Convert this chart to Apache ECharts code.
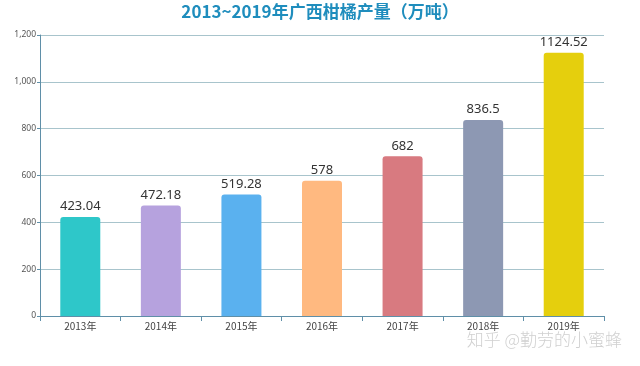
<!DOCTYPE html>
<html><head><meta charset="utf-8">
<script src="https://cdn.jsdelivr.net/npm/echarts@6/dist/echarts.min.js"></script>
<style>html,body{margin:0;padding:0;background:#fff}#c{width:640px;height:366px}</style>
</head><body><div id="c"></div>
<script>
const categories = ['2013年','2014年','2015年','2016年','2017年','2018年','2019年'];
const values = [423.04, 472.18, 519.28, 578, 682, 836.5, 1124.52];
const colors = ['#2ec7c9','#b6a2de','#5ab1ef','#ffb980','#d87a80','#8d98b3','#e5cf0d'];
const yTicks = [0, 200, 400, 600, 800, 1000, 1200];
const chart = echarts.init(document.getElementById('c'));
chart.setOption({
  animation: false,
  title: {
    text: '2013~2019年广西柑橘产量（万吨）', left: 'center', top: -2,
    textStyle: {color: '#1f8dbd', fontSize: 17, fontWeight: 'bold', fontFamily: 'Noto Sans CJK SC'}
  },
  graphic: [{type: 'text', right: 18, top: 331, style: {text: '知乎 @勤劳的小蜜蜂', fill: '#d0d0d0', fontSize: 17, fontFamily: 'Noto Sans CJK SC', fontWeight: 300}}],
  grid: {left: 40, right: 36, top: 35, bottom: 50},
  xAxis: {
    type: 'category', data: categories,
    axisLine: {lineStyle: {color: '#5f8fa8', width: 1}},
    axisTick: {show: true, lineStyle: {color: '#5f8fa8'}},
    axisLabel: {color: '#444', fontSize: 10, margin: 5, fontFamily: 'Noto Sans CJK SC'}
  },
  yAxis: {
    type: 'value', min: yTicks[0], max: yTicks[yTicks.length-1], interval: 200,
    axisLine: {show: true, lineStyle: {color: '#5f8fa8'}},
    axisTick: {show: true, length: 3, lineStyle: {color: '#5f8fa8'}},
    splitLine: {lineStyle: {color: '#a8c4cc'}},
    axisLabel: {color: '#555', fontSize: 8.5, margin: 4, formatter: v => v.toLocaleString('en-US'), fontFamily: 'Noto Sans'}
  },
  series: [{
    type: 'bar', barWidth: 40,
    data: values.map((v, i) => ({value: v, itemStyle: {color: colors[i]}})),
    itemStyle: {borderRadius: [3,3,0,0]},
    label: {show: true, position: 'top', color: '#333', fontSize: 13, distance: 4, fontFamily: 'Noto Sans'}
  }]
});
</script></body></html>
